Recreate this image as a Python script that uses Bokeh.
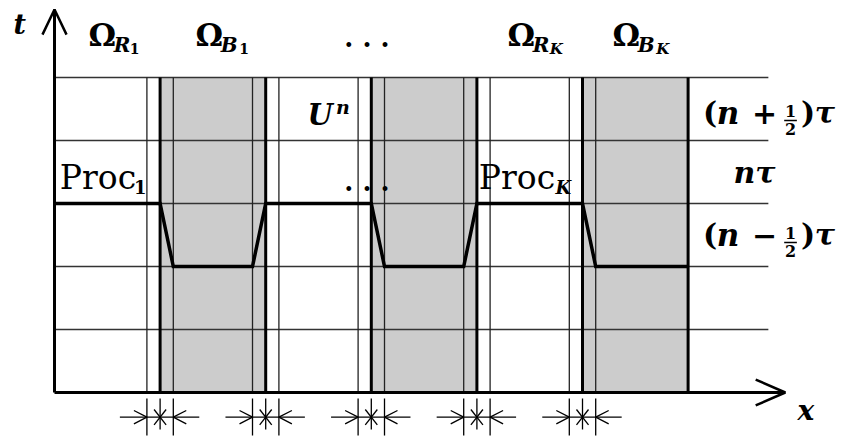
from bokeh.plotting import figure
from bokeh.core.properties import value
from bokeh.embed import file_html
from bokeh.resources import INLINE

# ---------------- data ----------------
interfaces = [1, 2, 3, 4, 5]            # subdomain interfaces (units of H)
domain_end = 6                          # right end of the last subdomain
red_domains = [(0, 1), (2, 3), (4, 5)]  # Omega_R
black_domains = [(1, 2), (3, 4), (5, 6)]  # Omega_B (shaded)
overlap = 0.125                         # half overlap width
time_levels = [1, 2, 3, 4, 5]           # grid lines (units of tau/2)
t_top = 5
grid_right = 6.76
red_level = 3                           # n tau
black_level = 2                         # (n - 1/2) tau

SERIF = value("DejaVu Serif")
PX_T = 63.0   # pixels per t unit

p = figure(width=842, height=437,
           x_range=(-0.5114, 7.4621), y_range=(-0.7143, 6.2222),
           output_backend="svg", toolbar_location=None,
           x_axis_type=None, y_axis_type=None,
           min_border=0, min_border_left=0, min_border_right=0,
           min_border_top=0, min_border_bottom=0)
p.outline_line_color = None
p.background_fill_color = "white"
p.border_fill_color = "white"

# shaded black subdomains
p.quad(left=[a for a, b in black_domains], right=[b for a, b in black_domains],
       bottom=[0] * len(black_domains), top=[t_top] * len(black_domains),
       fill_color="#cccccc", line_color=None)

# horizontal time lines
p.multi_line(xs=[[0, grid_right] for _ in time_levels],
             ys=[[t, t] for t in time_levels], line_color="#333333", line_width=1.3)

# thin overlap lines
thin_x = []
for k in interfaces:
    thin_x += [k - overlap, k + overlap]
p.multi_line(xs=[[x, x] for x in thin_x], ys=[[0, t_top] for _ in thin_x],
             line_color="#222222", line_width=1.3)

# thick interface lines
thick_x = interfaces + [domain_end]
p.multi_line(xs=[[x, x] for x in thick_x], ys=[[0, t_top] for _ in thick_x],
             line_color="black", line_width=3)

# axes with arrows
p.line(x=[0, 0], y=[0, 6.08], line_color="black", line_width=3)
p.line(x=[-0.114, 0, 0.114], y=[5.68, 6.08, 5.68], line_color="black", line_width=2.5)
p.line(x=[0, 6.92], y=[0, 0], line_color="black", line_width=3)
p.line(x=[6.64, 6.92, 6.64], y=[0.206, 0, -0.206], line_color="black", line_width=2.5)

# processor profile
px, pt = [0], [red_level]
for i, (a, b) in enumerate(black_domains):
    px += [a, a + overlap]
    pt += [red_level, black_level]
    if i < len(black_domains) - 1:
        px += [b - overlap, b]
        pt += [black_level, red_level]
    else:
        px += [b]
        pt += [black_level]
p.line(x=px, y=pt, line_color="black", line_width=3.5, line_join="miter")

# overlap markers below the axis
ym, ytop, ybot = -0.392, -0.095, -0.683
mxs, mys = [], []
for k in interfaces:
    for x in (k - overlap, k + overlap):
        mxs.append([x, x]); mys.append([ytop, ybot])
    mxs.append([k, k]); mys.append([ytop, -0.587])
    mxs.append([k - overlap - 0.256, k + overlap + 0.246]); mys.append([ym, ym])
    l, r = k - overlap, k + overlap
    mxs.append([l - 0.123, l, l - 0.123]); mys.append([ym + 0.106, ym, ym - 0.106])
    mxs.append([r + 0.123, r, r + 0.123]); mys.append([ym + 0.106, ym, ym - 0.106])
    mxs.append([k - 0.057, k + 0.057]); mys.append([ym + 0.122, ym - 0.122])
    mxs.append([k - 0.057, k + 0.057]); mys.append([ym - 0.122, ym + 0.122])
p.multi_line(xs=mxs, ys=mys, line_color="black", line_width=1.3)


def txt(x, y, s, size, style="bold", align="left"):
    # y is the desired alphabetic baseline; compensate the renderer's offset
    ya = y + 0.417 * size / PX_T
    p.text(x=[x], y=[ya], text=[s], text_font=SERIF,
           text_font_size=value(f"{size}px"), text_font_style=style,
           text_align=align, text_baseline="alphabetic", text_color="black")


# axis labels
txt(-0.388, 5.667, "t", 27, "bold italic")
txt(7.036, -0.476, "x", 28, "bold italic")

# subdomain labels
def omega(x0, sub, subsub, subsub_style, sub_w):
    txt(x0, 5.476, "Ω", 31, "bold")
    txt(x0 + 0.240, 5.38, sub, 20, "bold italic")
    txt(x0 + 0.240 + sub_w, 5.36, subsub, 14 if subsub_style == "bold" else 15, subsub_style)

omega(0.322, "R", "1", "bold", 0.150)
omega(1.335, "B", "1", "bold", 0.175)
omega(4.290, "R", "K", "bold italic", 0.160)
omega(5.284, "B", "K", "bold italic", 0.175)

txt(2.959, 5.46, ". . .", 26, "bold", "center")
txt(2.959, 3.17, ". . .", 26, "bold", "center")

# U^n
txt(2.396, 4.206, "U", 29, "bold italic")
txt(2.665, 4.40, "n", 19, "bold italic")

# Proc labels
txt(0.050, 3.19, "Proc", 33, "normal")
txt(0.752, 3.143, "1", 18, "bold")
txt(4.018, 3.19, "Proc", 33, "normal")
txt(4.744, 3.135, "K", 18, "bold italic")

# right-hand time labels
def level_label(base, sign):
    txt(6.140, base, "(", 30, "bold")
    txt(6.272, base, "n", 31, "bold italic")
    txt(6.605, base, sign, 30, "bold")
    txt(6.970, base + 0.127, "1", 16, "bold", "center")
    p.line(x=[6.910, 7.030], y=[base + 0.079, base + 0.079], line_color="black", line_width=1.6)
    txt(6.970, base - 0.159, "2", 16, "bold", "center")
    txt(7.070, base, ")", 30, "bold")
    txt(7.200, base, "τ", 30, "bold italic")

level_label(4.238, "+")
level_label(2.302, "−")
txt(6.430, 3.286, "nτ", 30, "bold italic")

open("out.html", "w").write(file_html(p, INLINE))
